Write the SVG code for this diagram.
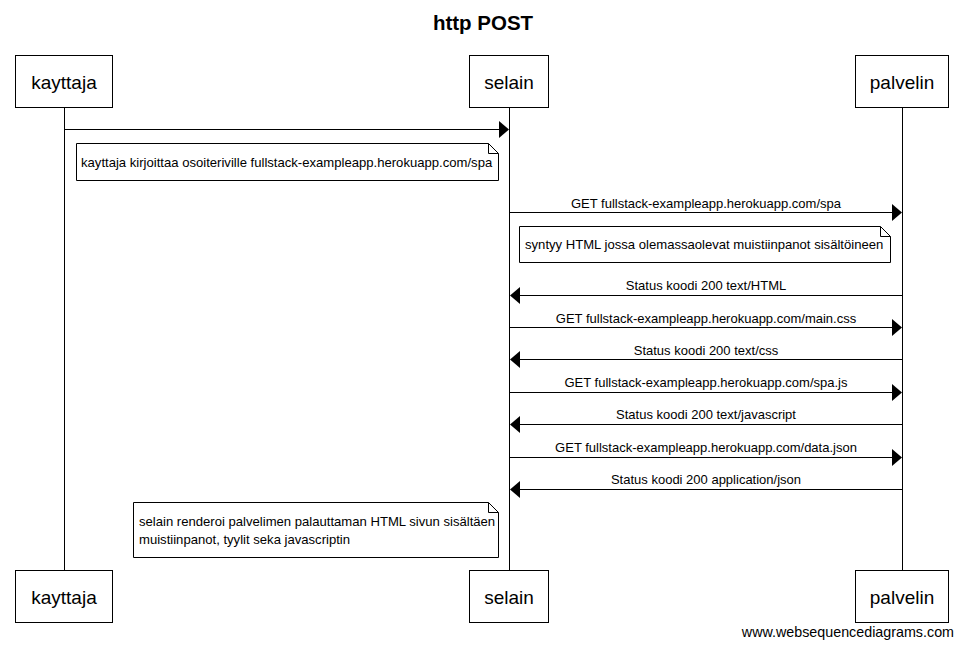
<svg xmlns="http://www.w3.org/2000/svg" width="963" height="648" viewBox="0 0 963 648">
<style>
text{font-family:"Liberation Sans",Arial,sans-serif;fill:#000}
.box{fill:#fff;stroke:#000;stroke-width:1}
.life{stroke:#000;stroke-width:1}
.msg{stroke:#000;stroke-width:1;fill:none}
.head{fill:#000}
.p{font-size:19px;text-anchor:middle}
.m{font-size:13px;text-anchor:middle}
.n{font-size:13.1px}
.note{fill:#fff;stroke:#000;stroke-width:1}
</style>
<rect width="963" height="648" fill="#fff"/>
<text x="483" y="30" font-size="20.5" font-weight="bold" text-anchor="middle">http POST</text>
<g id="lifelines">
<line class="life" x1="64.5" y1="108" x2="64.5" y2="570"/>
<line class="life" x1="509.5" y1="108" x2="509.5" y2="570"/>
<line class="life" x1="902.5" y1="108" x2="902.5" y2="570"/>
</g>
<g id="kayttaja">
<rect class="box" x="15.5" y="55.5" width="97" height="52"/>
<text class="p" x="64" y="89">kayttaja</text>
<rect class="box" x="15.5" y="570.5" width="97" height="52"/>
<text class="p" x="64" y="604">kayttaja</text>
</g>
<g id="selain">
<rect class="box" x="469.5" y="55.5" width="79" height="52"/>
<text class="p" x="509" y="89">selain</text>
<rect class="box" x="469.5" y="570.5" width="79" height="52"/>
<text class="p" x="509" y="604">selain</text>
</g>
<g id="palvelin">
<rect class="box" x="855.5" y="55.5" width="93" height="52"/>
<text class="p" x="902" y="89">palvelin</text>
<rect class="box" x="855.5" y="570.5" width="93" height="52"/>
<text class="p" x="902" y="604">palvelin</text>
</g>
<g id="connectors">
<line class="msg" x1="65" y1="129.5" x2="500" y2="129.5"/>
<path class="head" d="M509,129.5 L499,121 L499,138 Z"/>

<line class="msg" x1="510" y1="212.5" x2="893" y2="212.5"/>
<path class="head" d="M902,212.5 L892,204 L892,221 Z"/>
<text class="m" x="706" y="208">GET fullstack-exampleapp.herokuapp.com/spa</text>

<line class="msg" x1="519" y1="295.5" x2="902" y2="295.5"/>
<path class="head" d="M510,295.5 L520,287 L520,304 Z"/>
<text class="m" x="706" y="290">Status koodi 200 text/HTML</text>

<line class="msg" x1="510" y1="327.5" x2="893" y2="327.5"/>
<path class="head" d="M902,327.5 L892,319 L892,336 Z"/>
<text class="m" x="706" y="323">GET fullstack-exampleapp.herokuapp.com/main.css</text>

<line class="msg" x1="519" y1="359.5" x2="902" y2="359.5"/>
<path class="head" d="M510,359.5 L520,351 L520,368 Z"/>
<text class="m" x="706" y="355">Status koodi 200 text/css</text>

<line class="msg" x1="510" y1="392.5" x2="893" y2="392.5"/>
<path class="head" d="M902,392.5 L892,384 L892,401 Z"/>
<text class="m" x="706" y="387">GET fullstack-exampleapp.herokuapp.com/spa.js</text>

<line class="msg" x1="519" y1="424.5" x2="902" y2="424.5"/>
<path class="head" d="M510,424.5 L520,416 L520,433 Z"/>
<text class="m" x="706" y="419">Status koodi 200 text/javascript</text>

<line class="msg" x1="510" y1="457.5" x2="893" y2="457.5"/>
<path class="head" d="M902,457.5 L892,449 L892,466 Z"/>
<text class="m" x="706" y="452">GET fullstack-exampleapp.herokuapp.com/data.json</text>

<line class="msg" x1="519" y1="489.5" x2="902" y2="489.5"/>
<path class="head" d="M510,489.5 L520,481 L520,498 Z"/>
<text class="m" x="706" y="484">Status koodi 200 application/json</text>
</g>
<g id="note1">
<path class="note" d="M76.5,143.5 H488.5 L498.5,153.5 V180.5 H76.5 Z"/>
<path class="msg" d="M488.5,143.5 V153.5 H498.5"/>
<text class="n" x="81" y="167">kayttaja kirjoittaa osoiteriville fullstack-exampleapp.herokuapp.com/spa</text>
</g>
<g id="note2">
<path class="note" d="M519.5,226.5 H880.5 L890.5,236.5 V262.5 H519.5 Z"/>
<path class="msg" d="M880.5,226.5 V236.5 H890.5"/>
<text class="n" x="525" y="249">syntyy HTML jossa olemassaolevat muistiinpanot sisältöineen</text>
</g>
<g id="note3">
<path class="note" d="M133.5,502.5 H488.5 L498.5,512.5 V557.5 H133.5 Z"/>
<path class="msg" d="M488.5,502.5 V512.5 H498.5"/>
<text class="n" x="139" y="526">selain renderoi palvelimen palauttaman HTML sivun sisältäen</text>
<text class="n" x="139" y="544">muistiinpanot, tyylit seka javascriptin</text>
</g>
<text x="954" y="637" font-size="14.3" text-anchor="end">www.websequencediagrams.com</text>
</svg>
